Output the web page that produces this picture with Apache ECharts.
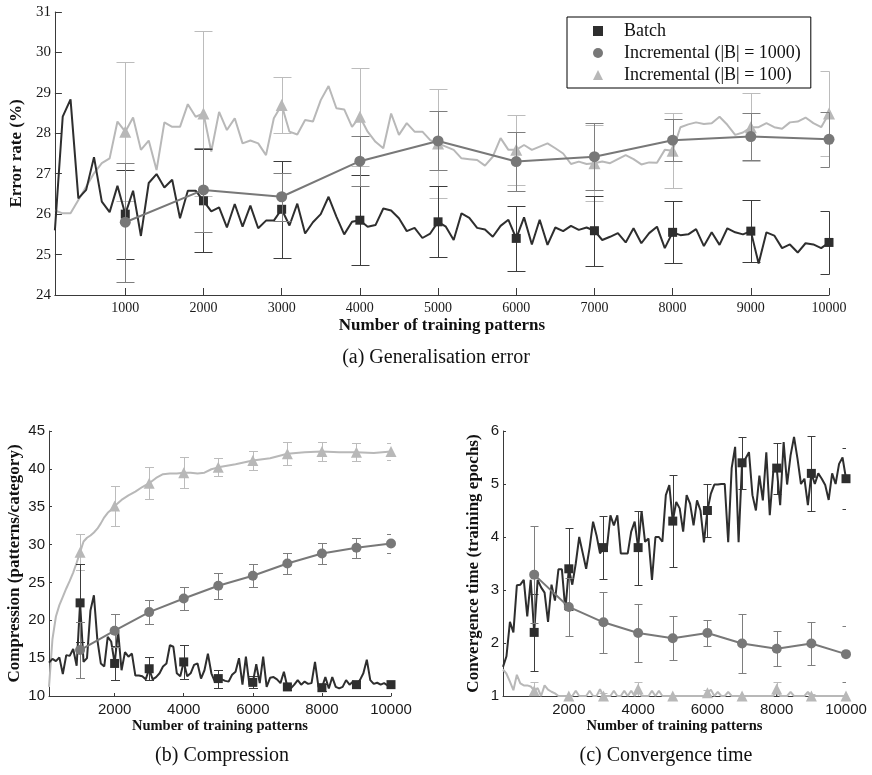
<!DOCTYPE html>
<html>
<head>
<meta charset="utf-8">
<script src="https://cdn.jsdelivr.net/npm/echarts@6/dist/echarts.min.js"></script>
<style>
  html, body { margin: 0; padding: 0; background: #fff; }
  #chart { width: 872px; height: 775px; }
</style>
</head>
<body>
<div id="chart"></div>
<script>
// ---- sampling grid (patterns seen so far) ----
const xFine = Array.from({ length: 100 }, (_, i) => (i + 1) * 100);
const xMarks = [1000, 2000, 3000, 4000, 5000, 6000, 7000, 8000, 9000, 10000];
const xTicksWide = [2000, 4000, 6000, 8000, 10000];
const seriesNames = ['Batch', 'Incremental (|B| = 1000)', 'Incremental (|B| = 100)'];

// ---- (a) generalisation error, % ----
const errBatch = [
  25.60, 28.41, 28.84, 26.39, 26.60, 27.41, 26.31, 26.05, 26.70, 26.00,
  26.58, 25.46, 26.77, 26.99, 26.66, 26.85, 25.90, 26.58, 26.58, 26.33,
  26.07, 26.17, 25.67, 26.25, 25.69, 26.21, 25.65, 25.84, 25.84, 26.12,
  25.72, 26.26, 25.52, 25.80, 26.00, 26.43, 25.94, 25.50, 25.81, 25.85,
  25.69, 25.73, 26.14, 26.09, 25.90, 25.58, 25.66, 25.41, 25.52, 25.81,
  25.69, 25.36, 26.02, 25.91, 25.66, 25.62, 25.44, 25.71, 25.86, 25.40,
  25.92, 25.25, 25.86, 25.24, 25.67, 25.58, 25.71, 25.61, 25.67, 25.59,
  25.36, 25.44, 25.53, 25.30, 25.65, 25.28, 25.53, 25.69, 25.16, 25.55,
  25.48, 25.50, 25.63, 25.21, 25.55, 25.24, 25.65, 25.55, 25.50, 25.58,
  24.78, 25.55, 25.47, 25.16, 25.25, 25.05, 25.28, 25.25, 25.16, 25.30
];
const errInc100 = [
  26.09, 26.02, 26.02, 26.35, 26.68, 27.01, 27.26, 27.38, 28.29, 28.04,
  28.39, 27.59, 27.82, 27.09, 28.27, 28.16, 28.16, 28.72, 28.41, 28.49,
  27.55, 28.53, 28.08, 28.37, 27.75, 27.82, 27.75, 27.46, 28.37, 28.70,
  28.04, 27.97, 28.33, 28.29, 28.82, 29.17, 28.62, 28.59, 28.16, 28.41,
  28.04, 27.79, 27.63, 28.49, 27.96, 28.25, 28.04, 28.04, 27.83, 27.75,
  27.67, 27.59, 27.38, 27.36, 27.34, 27.20, 27.42, 27.88, 27.59, 27.59,
  27.71, 27.59, 27.67, 27.75, 27.63, 27.50, 27.24, 27.30, 27.24, 27.26,
  27.30, 27.26, 27.36, 27.46, 27.36, 27.23, 27.28, 27.27, 27.59, 27.57,
  28.15, 28.22, 28.27, 28.23, 28.25, 28.41, 28.21, 27.96, 28.02, 28.15,
  28.15, 28.25, 28.15, 28.11, 28.27, 28.29, 28.39, 28.25, 28.15, 28.49
];
const errInc1000 = [25.80, 26.60, 26.43, 27.31, 27.81, 27.30, 27.42, 27.83, 27.92, 27.85];
const errSdBatch = [1.10, 1.27, 1.20, 1.11, 0.88, 0.80, 0.87, 0.77, 0.77, 0.79];
const errSdInc1000 = [1.47, 1.03, 0.60, 0.62, 0.73, 0.72, 0.83, 0.52, 0.59, 0.68];
const errSdInc100 = [1.72, 2.05, 0.70, 1.21, 1.34, 0.86, 0.94, 0.92, 0.84, 1.05];

// ---- (b) compression, patterns per category ----
const compBatch = [
  14.4, 14.9, 14.6, 15.1, 12.9, 15.4, 15.3, 16.2, 14.0, 22.3,
  14.5, 15.0, 21.3, 23.3, 17.4, 14.3, 13.9, 17.8, 17.2, 14.3,
  18.6, 13.4, 15.8, 15.2, 15.6, 12.7, 12.7, 12.6, 12.2, 13.6,
  12.2, 12.5, 13.0, 13.9, 14.3, 16.7, 16.5, 13.0, 12.6, 14.5,
  12.6, 13.0, 14.1, 14.3, 12.3, 13.4, 15.6, 13.0, 11.9, 12.3,
  12.2, 12.0, 11.9, 12.8, 13.2, 15.0, 11.5, 15.2, 11.5, 11.8,
  14.2, 11.7, 15.2, 11.2, 12.4, 12.5, 12.2, 11.7, 13.2, 11.2,
  11.0, 11.5, 12.1, 11.5, 11.9, 11.6, 11.7, 14.5, 11.2, 11.1,
  12.5, 11.0, 12.5, 11.2, 11.0, 11.2, 12.1, 11.5, 11.9, 11.5,
  12.1, 13.0, 14.8, 12.1, 11.6, 11.75, 11.5, 11.7, 11.4, 11.5
];
const compInc100X = [
  100, 200, 300, 400, 500, 600, 700, 800, 900, 1000,
  1100, 1200, 1300, 1400, 1500, 1600, 1700, 1800, 1900, 2000,
  2200, 2400, 2600, 2800, 3000, 3200, 3400, 3600, 3800, 4000,
  4200, 4400, 4600, 4800, 5000, 5500, 6000, 6500, 7000, 7500,
  8000, 8500, 9000, 9500, 10000
];
const compInc100 = [
  11.2, 17.5, 20.5, 22.0, 23.1, 24.2, 25.2, 26.3, 27.6, 29.0,
  30.4, 30.9, 31.2, 31.6, 32.1, 32.8, 33.6, 34.2, 34.6, 35.1,
  35.9, 36.5, 37.0, 37.6, 38.1, 38.8, 39.3, 39.4, 39.4, 39.5,
  39.5, 39.4, 39.5, 39.95, 40.2, 40.6, 41.1, 41.4, 42.0, 42.2,
  42.3, 42.2, 42.2, 42.1, 42.3
];
const compInc1000 = [16.07, 18.62, 21.08, 22.88, 24.56, 25.88, 27.50, 28.82, 29.57, 30.14];
const compSdBatch = [5.2, 2.25, 1.5, 2.2, 1.2, 0.8, 0.4, 0.5, 0.5, 0.4];
const compSdInc1000 = [3.74, 2.2, 1.6, 1.55, 1.75, 1.5, 1.4, 1.45, 1.35, 1.3];
const compSdInc100 = [2.4, 2.7, 2.1, 2.0, 1.2, 1.3, 1.5, 1.3, 1.2, 1.15];

// ---- (c) convergence time, training epochs ----
const convBatch = [
  1.55, 1.75, 2.40, 2.20, 3.09, 3.10, 3.19, 2.50, 3.19, 2.20,
  3.19, 3.05, 2.95, 2.40, 3.10, 2.80, 3.39, 3.39, 2.62, 3.40,
  3.10, 3.50, 4.00, 3.70, 3.40, 3.80, 4.29, 4.03, 3.69, 3.80,
  3.80, 4.41, 4.22, 4.41, 3.69, 3.69, 3.69, 4.10, 4.29, 3.80,
  4.49, 3.91, 3.97, 3.19, 4.00, 4.00, 3.91, 4.79, 4.98, 4.30,
  4.66, 4.54, 4.10, 4.79, 4.63, 4.22, 4.69, 4.50, 3.90, 4.50,
  4.82, 4.99, 4.99, 5.00, 5.00, 3.90, 5.30, 5.70, 3.90, 5.40,
  5.48, 5.60, 4.79, 4.50, 5.16, 4.69, 5.60, 4.41, 5.23, 5.30,
  4.60, 5.79, 4.99, 5.54, 5.89, 5.48, 5.00, 5.10, 4.60, 5.20,
  5.00, 5.20, 5.10, 4.98, 4.70, 5.20, 5.00, 5.38, 5.50, 5.10
];
const convInc100 = [
  1.50, 1.42, 1.27, 1.11, 1.40, 1.24, 1.20, 1.20, 1.18, 1.10,
  1.15, 1.00, 1.20, 1.12, 1.08, 1.05, 1.00, 1.00, 1.00, 1.00,
  1.00, 1.10, 1.00, 1.00, 1.00, 1.10, 1.00, 1.00, 1.13, 1.00,
  1.00, 1.00, 1.10, 1.00, 1.00, 1.10, 1.00, 1.10, 1.00, 1.13,
  1.00, 1.00, 1.00, 1.10, 1.00, 1.10, 1.00, 1.00, 1.00, 1.00,
  1.00, 1.00, 1.00, 1.00, 1.00, 1.00, 1.00, 1.00, 1.00, 1.06,
  1.12, 1.00, 1.08, 1.00, 1.00, 1.08, 1.00, 1.00, 1.00, 1.00,
  1.00, 1.00, 1.00, 1.00, 1.00, 1.00, 1.00, 1.00, 1.00, 1.13,
  1.00, 1.00, 1.00, 1.08, 1.00, 1.00, 1.00, 1.00, 1.08, 1.00,
  1.00, 1.00, 1.00, 1.00, 1.00, 1.00, 1.00, 1.00, 1.00, 1.00
];
const convInc1000 = [3.29, 2.68, 2.39, 2.19, 2.09, 2.19, 1.99, 1.89, 1.99, 1.79];
const convSdBatch = [0.72, 0.77, 0.59, 0.70, 0.87, 0.50, 0.49, 0.48, 0.71, 0.58];
const convSdInc1000 = [0.91, 0.54, 0.57, 0.54, 0.42, 0.25, 0.55, 0.33, 0.40, 0.53];
const convSdInc100 = [0.17, 0, 0.05, 0.14, 0, 0.05, 0, 0.14, 0.03, 0];

// ---- styling ----
const C_BATCH = '#2e2e2e';
const C_MID = '#787878';
const C_LIGHT = '#b8b8b8';
const C_BAR_BATCH = '#3c3c3c';
const C_BAR_MID = '#7e7e7e';
const C_BAR_LIGHT = '#bcbcbc';
const SERIF = 'Liberation Serif';
const SANS = 'Liberation Sans';

// ---- helpers ----
const pairs = (xs, ys) => xs.map((x, i) => [x, ys[i]]);
const pick = (xs, ys) => xMarks.map(m => [m, ys[xs.indexOf(m)]]);
const bars = (pts, sd) => pts
  .map((p, i) => [p[0], p[1] - sd[i], p[1] + sd[i], sd[i]])
  .filter(d => d[3] > 0);

// vertical error bar with caps; caps are trimmed to the plot area
function errorBars(capHalf, color) {
  return function (params, api) {
    const x = api.value(0);
    const lo = api.coord([x, api.value(1)]);
    const hi = api.coord([x, api.value(2)]);
    const cs = params.coordSys;
    const cx = Math.round(lo[0]) + 0.5;
    const yl = Math.round(lo[1]) + 0.5;
    const yh = Math.round(hi[1]) + 0.5;
    const left = Math.max(cx - capHalf, cs.x);
    const right = Math.min(cx + capHalf, cs.x + cs.width + 0.5);
    const style = { stroke: color, lineWidth: 1, fill: null };
    return {
      type: 'group',
      children: [
        { type: 'line', shape: { x1: cx, y1: yl, x2: cx, y2: yh }, style },
        { type: 'line', shape: { x1: left, y1: yl, x2: right, y2: yl }, style },
        { type: 'line', shape: { x1: left, y1: yh, x2: right, y2: yh }, style }
      ]
    };
  };
}

function xAxisDef(gridIndex, tickValues, labelFont, labelSize, tickLen, name, nameSize, nameGap) {
  return {
    type: 'value', gridIndex, min: 100, max: 10000,
    axisLine: { lineStyle: { color: '#3a3a3a', width: 1 } },
    axisTick: { inside: true, length: tickLen, customValues: tickValues, lineStyle: { color: '#3a3a3a' } },
    axisLabel: {
      customValues: tickValues, formatter: v => String(v),
      fontFamily: labelFont, fontSize: labelSize, color: '#1a1a1a', margin: 6
    },
    splitLine: { show: false },
    name, nameLocation: 'middle', nameGap,
    nameTextStyle: { fontFamily: SERIF, fontWeight: 'bold', fontSize: nameSize, color: '#111' }
  };
}

function yAxisDef(gridIndex, min, max, interval, labelFont, labelSize, tickLen, name, nameSize, nameGap) {
  return {
    type: 'value', gridIndex, min, max, interval,
    axisLine: { show: true, lineStyle: { color: '#3a3a3a', width: 1 } },
    axisTick: { show: true, inside: true, length: tickLen, lineStyle: { color: '#3a3a3a' } },
    axisLabel: { fontFamily: labelFont, fontSize: labelSize, color: '#1a1a1a', margin: 4 },
    splitLine: { show: false },
    name, nameLocation: 'middle', nameGap, nameRotate: 90,
    nameTextStyle: { fontFamily: SERIF, fontWeight: 'bold', fontSize: nameSize, color: '#111' }
  };
}

// builds the three groups (markers, error bars, lines) for one panel
function panel(idx, cfg) {
  const out = [];
  const groups = [
    { name: seriesNames[2], line: cfg.lightLine, marks: cfg.lightMarks, sd: cfg.lightSd, color: C_LIGHT, bar: C_BAR_LIGHT, symbol: 'triangle', size: cfg.triSize, z: 2 },
    { name: seriesNames[0], line: cfg.batchLine, marks: cfg.batchMarks, sd: cfg.batchSd, color: C_BATCH, bar: C_BAR_BATCH, symbol: 'rect', size: cfg.sqSize, z: 4 },
    { name: seriesNames[1], line: cfg.midLine, marks: cfg.midMarks, sd: cfg.midSd, color: C_MID, bar: C_BAR_MID, symbol: 'circle', size: cfg.cirSize, z: 6 }
  ];
  groups.forEach(g => {
    out.push({
      name: g.name, type: 'scatter', xAxisIndex: idx, yAxisIndex: idx,
      data: g.marks, symbol: g.symbol, symbolSize: g.size,
      itemStyle: { color: g.color, opacity: 1 }, z: g.z + 1, silent: true, clip: true
    });
    out.push({
      name: g.name, type: 'custom', xAxisIndex: idx, yAxisIndex: idx,
      data: bars(g.marks, g.sd), renderItem: errorBars(cfg.capHalf, g.bar),
      encode: { x: 0, y: [1, 2] }, clip: true, z: g.z, silent: true,
      itemStyle: { color: g.color }
    });
    out.push({
      name: g.name, type: 'line', xAxisIndex: idx, yAxisIndex: idx,
      data: g.line, symbol: 'none', clip: true, z: g.z, silent: true,
      lineStyle: { color: g.color, width: 2 }, itemStyle: { color: g.color }
    });
  });
  return out;
}

const batchA = pairs(xFine, errBatch);
const lightA = pairs(xFine, errInc100);
const midA = pairs(xMarks, errInc1000);
const batchB = pairs(xFine, compBatch);
const lightB = pairs(compInc100X, compInc100);
const midB = pairs(xMarks, compInc1000);
const batchC = pairs(xFine, convBatch);
const lightC = pairs(xFine, convInc100);
const midC = pairs(xMarks, convInc1000);

const series = [].concat(
  panel(0, {
    batchLine: batchA, batchMarks: pick(xFine, errBatch), batchSd: errSdBatch,
    lightLine: lightA, lightMarks: pick(xFine, errInc100), lightSd: errSdInc100,
    midLine: midA, midMarks: midA, midSd: errSdInc1000,
    capHalf: 9, sqSize: 9, cirSize: 11, triSize: 12
  }),
  panel(1, {
    batchLine: batchB, batchMarks: pick(xFine, compBatch), batchSd: compSdBatch,
    lightLine: lightB, lightMarks: pick(compInc100X, compInc100), lightSd: compSdInc100,
    midLine: midB, midMarks: midB, midSd: compSdInc1000,
    capHalf: 4.5, sqSize: 9, cirSize: 10, triSize: 11
  }),
  panel(2, {
    batchLine: batchC, batchMarks: pick(xFine, convBatch), batchSd: convSdBatch,
    lightLine: lightC, lightMarks: pick(xFine, convInc100), lightSd: convSdInc100,
    midLine: midC, midMarks: midC, midSd: convSdInc1000,
    capHalf: 4, sqSize: 9, cirSize: 10, triSize: 11
  })
);

const chart = echarts.init(document.getElementById('chart'), null, { renderer: 'canvas' });
chart.setOption({
  animation: false,
  backgroundColor: '#fff',
  grid: [
    { left: 50, top: 12, width: 779, height: 283 },
    { left: 49, top: 431, width: 342, height: 265 },
    { left: 503, top: 431, width: 343, height: 265 }
  ],
  xAxis: [
    xAxisDef(0, xMarks, SERIF, 14, 7, 'Number of training patterns', 17, 22),
    xAxisDef(1, xTicksWide, SANS, 15, 3, 'Number of training patterns', 14.5, 23),
    xAxisDef(2, xTicksWide, SANS, 15, 3, 'Number of training patterns', 14.5, 23)
  ],
  yAxis: [
    yAxisDef(0, 24, 31, 1, SERIF, 15, 7, 'Error rate (%)', 17, 23),
    yAxisDef(1, 10, 45, 5, SANS, 15, 3, 'Compression (patterns/category)', 17, 26),
    yAxisDef(2, 1, 6, 1, SANS, 15, 3, 'Convergence time (training epochs)', 17, 21)
  ],
  legend: {
    orient: 'vertical', left: 567, top: 17,
    padding: [4, 10, 3, 26], itemGap: 2, itemWidth: 10, itemHeight: 10,
    borderColor: '#000', borderWidth: 1, backgroundColor: '#fff',
    selectedMode: false,
    textStyle: { fontFamily: SERIF, fontSize: 18, color: '#111', padding: [0, 0, 0, 16], lineHeight: 20 },
    data: [
      { name: seriesNames[0], icon: 'rect', itemStyle: { color: C_BATCH } },
      { name: seriesNames[1], icon: 'circle', itemStyle: { color: C_MID } },
      { name: seriesNames[2], icon: 'triangle', itemStyle: { color: C_LIGHT } }
    ]
  },
  graphic: [
    { type: 'text', x: 436, y: 358, style: { text: '(a) Generalisation error', font: '20px "Liberation Serif"', fill: '#111', textAlign: 'center', textVerticalAlign: 'middle' } },
    { type: 'text', x: 222, y: 756, style: { text: '(b) Compression', font: '20px "Liberation Serif"', fill: '#111', textAlign: 'center', textVerticalAlign: 'middle' } },
    { type: 'text', x: 666, y: 756, style: { text: '(c) Convergence time', font: '20px "Liberation Serif"', fill: '#111', textAlign: 'center', textVerticalAlign: 'middle' } }
  ],
  series
});
</script>
</body>
</html>
